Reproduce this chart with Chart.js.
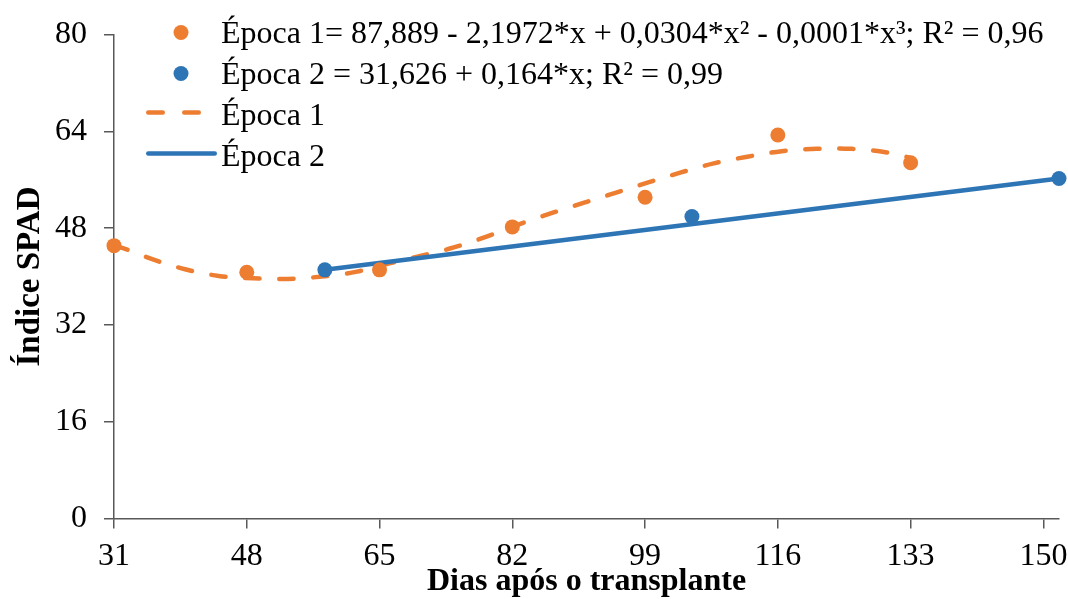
<!DOCTYPE html>
<html>
<head>
<meta charset="utf-8">
<script src="https://cdn.jsdelivr.net/npm/chart.js@4.4.1/dist/chart.umd.min.js"></script>
<style>
html,body{margin:0;padding:0;background:#fff;}
#wrap{position:relative;width:1068px;height:599px;overflow:hidden;}
#c{position:absolute;left:0;top:0;}
.lg{position:absolute;left:221px;font-family:'Liberation Serif','Times New Roman',serif;font-size:32px;line-height:32px;color:#000;white-space:pre;}
#lgsvg{position:absolute;left:0;top:0;}
</style>
</head>
<body>
<div id="wrap">
<canvas id="c" width="1068" height="599"></canvas>
<svg id="lgsvg" width="240" height="180"></svg>
<div id="legend"></div>
</div>
<script>
// ---- data ----
const diasTicks = [31, 48, 65, 82, 99, 116, 133, 150];
const spadTicks = [0, 16, 32, 48, 64, 80];

// Época 1 observed points
const dias1 = [31, 48, 65, 82, 99, 116, 133];
const spad1 = [45.1, 40.7, 41.1, 48.2, 53.1, 63.4, 58.8];

// Época 2 observed points
const dias2 = [58, 105, 152];
const spad2 = [41.1, 49.9, 56.2];

// Época 1 fitted curve
const curvaDias1 = [31, 32.6, 35.8, 40.1, 44.4, 48.8, 53.3, 57.6, 62.1, 66.4, 70.9, 74.5, 78.7, 83.2, 87.1, 91.2, 95.4, 99.3, 103.6, 107.8, 112.1, 116.5, 121, 125.5, 130, 133];
const curvaSpad1 = [45.1, 44.5, 42.9, 41.2, 40.1, 39.7, 39.6, 40.0, 40.8, 42.2, 43.6, 44.8, 46.6, 48.8, 50.5, 52.2, 53.9, 55.5, 57.2, 58.7, 59.8, 60.7, 61.1, 61.1, 60.5, 59.6];

// Época 2 fitted line (end points)
const retaDias2 = [58, 152];
const retaSpad2 = [41.1, 56.2];

const legendTexts = [
  'Época 1= 87,889 - 2,1972*x + 0,0304*x² - 0,0001*x³; R² = 0,96',
  'Época 2 = 31,626 + 0,164*x; R² = 0,99',
  'Época 1',
  'Época 2'
];
const xTitle = 'Dias após o transplante';
const yTitle = 'Índice SPAD';

// ---- styling ----
const ORANGE = '#ED7D31';
const BLUE = '#2E75B6';
const AXIS = '#595959';
const FONT = "'Liberation Serif','Times New Roman',serif";

const pts = (xs, ys) => xs.map((x, i) => ({x: x, y: ys[i]}));

new Chart(document.getElementById('c'), {
  type: 'scatter',
  data: {
    datasets: [
      {label: 'p1', data: pts(dias1, spad1), backgroundColor: ORANGE, borderWidth: 0, pointRadius: 7.5, showLine: false, order: 0, clip: false},
      {label: 'p2', data: pts(dias2, spad2), backgroundColor: BLUE, borderWidth: 0, pointRadius: 7.5, showLine: false, order: 1, clip: false},
      {label: 'r2', type: 'line', data: pts(retaDias2, retaSpad2), borderColor: BLUE, borderWidth: 4.5, pointRadius: 0, fill: false, order: 2, borderCapStyle: 'round', clip: false},
      {label: 'c1', type: 'line', data: pts(curvaDias1, curvaSpad1), borderColor: ORANGE, borderWidth: 4.5, borderDash: [14, 20], borderCapStyle: 'round', tension: 0.4, pointRadius: 0, fill: false, order: 3, clip: false}
    ]
  },
  options: {
    responsive: false,
    animation: false,
    devicePixelRatio: 1,
    layout: {padding: {left: 0, right: 9, top: 34.5, bottom: 0}},
    plugins: {legend: {display: false}, tooltip: {enabled: false}},
    scales: {
      x: {
        type: 'linear', min: 31, max: 152,
        afterBuildTicks: s => { s.ticks = diasTicks.map(v => ({value: v})); },
        afterFit: s => { s.height = 80.5; s.paddingLeft = 0; s.paddingRight = 0; },
        ticks: {font: {family: FONT, size: 32}, color: '#000', padding: 9, maxRotation: 0, autoSkip: false},
        grid: {display: true, drawOnChartArea: false, drawTicks: true, tickLength: 10, color: AXIS, lineWidth: 1.5},
        border: {display: true, color: AXIS, width: 1.5},
        title: {display: true, text: xTitle, color: '#000', font: {family: FONT, size: 32, weight: 'bold', lineHeight: 1}, padding: {top: 0, bottom: 1}}
      },
      y: {
        min: 0, max: 80,
        afterBuildTicks: s => { s.ticks = spadTicks.map(v => ({value: v})); },
        afterFit: s => { s.width = 114; s.paddingTop = 0; s.paddingBottom = 0; },
        ticks: {font: {family: FONT, size: 32}, color: '#000', padding: 17},
        grid: {display: true, drawOnChartArea: false, drawTicks: true, tickLength: 10, color: AXIS, lineWidth: 1.5},
        border: {display: true, color: AXIS, width: 1.5},
        title: {display: true, text: yTitle, color: '#000', font: {family: FONT, size: 33, weight: 'bold', lineHeight: 1}, padding: {top: 14, bottom: 0}}
      }
    }
  }
});

// ---- legend (HTML text + SVG markers) ----
const baselines = [43, 84, 125, 166];
const lg = document.getElementById('legend');
legendTexts.forEach((t, i) => {
  const d = document.createElement('div');
  d.className = 'lg';
  d.style.top = (baselines[i] - 27) + 'px';
  d.textContent = t;
  lg.appendChild(d);
});
const NS = 'http://www.w3.org/2000/svg';
const svg = document.getElementById('lgsvg');
function el(name, attrs) { const e = document.createElementNS(NS, name); for (const k in attrs) e.setAttribute(k, attrs[k]); svg.appendChild(e); }
el('circle', {cx: 181, cy: 32.5, r: 7.5, fill: ORANGE});
el('circle', {cx: 181, cy: 73.5, r: 7.5, fill: BLUE});
el('line', {x1: 148.25, y1: 112.5, x2: 198.75, y2: 112.5, stroke: ORANGE, 'stroke-width': 4.5, 'stroke-linecap': 'round', 'stroke-dasharray': '14.5 21.5'});
el('line', {x1: 148.25, y1: 153.5, x2: 214.75, y2: 153.5, stroke: BLUE, 'stroke-width': 4.5, 'stroke-linecap': 'round'});
</script>
</body>
</html>
